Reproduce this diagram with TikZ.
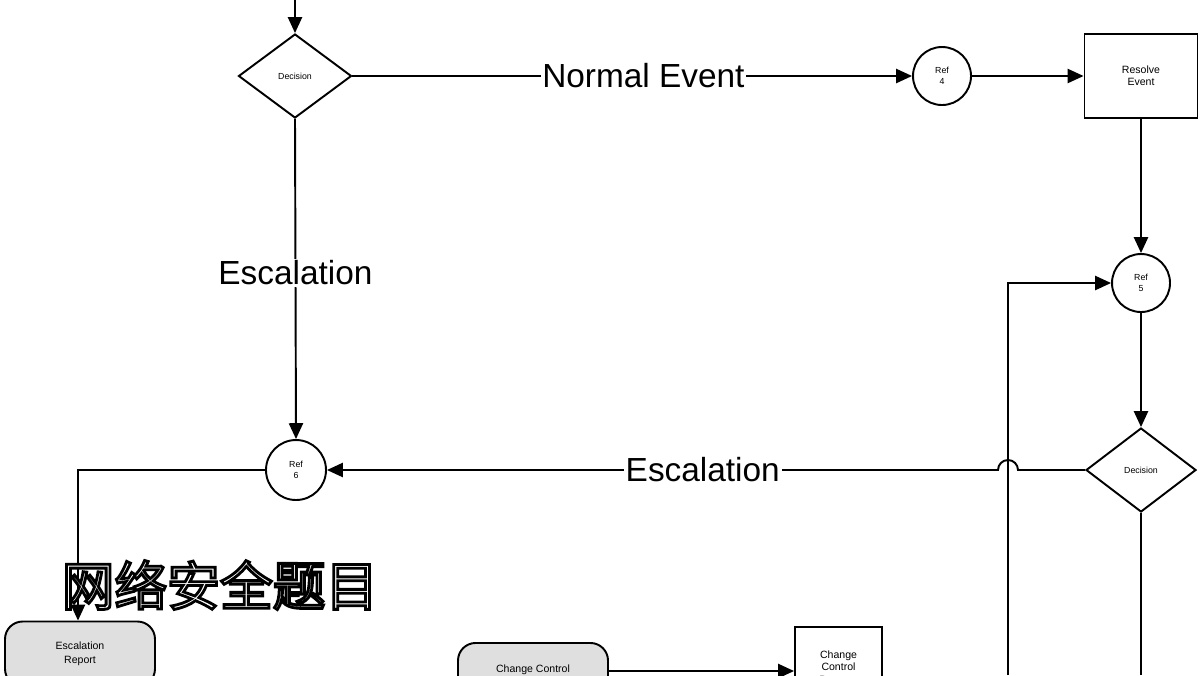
\documentclass[tikz,border=0pt]{standalone}
\usepackage{fontspec}
\setmainfont{Liberation Sans}
\newfontfamily\cjk{Noto Sans CJK SC}
\newcommand\outlinetxt[1]{\special{pdf:code q 2 Tr 1.6 w 0 0 0 RG 1 1 1 rg}#1\special{pdf:code 0 Tr Q}}
\usetikzlibrary{shapes.geometric,arrows.meta}
\begin{document}
\begin{tikzpicture}[
  line width=1.1pt,
  arr/.style={-{Triangle[length=9pt,width=8pt]}},
  dec/.style={diamond,draw,minimum width=2.26cm,minimum height=1.68cm,inner sep=0pt,font=\fontsize{5}{6}\selectfont,aspect=1.36},
  ref/.style={circle,draw,minimum size=1.16cm,inner sep=0pt,align=center,font=\fontsize{5}{6}\selectfont},
  box/.style={rectangle,draw,align=center,font=\fontsize{6}{7}\selectfont},
  rbox/.style={rectangle,rounded corners=10pt,draw,fill=gray!25,align=center,font=\fontsize{6}{8}\selectfont},
  lbl/.style={fill=white,inner sep=1pt,font=\fontsize{19}{22}\selectfont}
]
\useasboundingbox (0,0) rectangle (24,-13.5);
\node[dec] (d1) at (5.9,-1.52) {Decision};
\node[ref] (r4) at (18.84,-1.52) {Ref\\4};
\node[box,minimum width=2.26cm,minimum height=1.68cm] (res) at (22.82,-1.52) {Resolve\\Event};
\node[ref] (r5) at (22.82,-5.66) {Ref\\5};
\node[dec,minimum width=2.2cm] (d2) at (22.82,-9.4) {Decision};
\node[ref,minimum size=1.2cm] (r6) at (5.92,-9.4) {Ref\\6};
\node[rbox,minimum width=3cm,minimum height=1.3cm] (esc) at (1.6,-13.08) {Escalation\\Report};
\node[rbox,minimum width=3cm,minimum height=1.3cm,anchor=north] (cc) at (10.66,-12.84) {Change Control\\ };
\node[box,minimum width=1.74cm,minimum height=1.6cm,anchor=north,align=center] (ccp) at (16.77,-12.52) {Change\\Control\\Process};
\coordinate (top) at (5.9,0);
\coordinate (bot) at (22.82,-13.5);
\coordinate (lb) at (20.16,-13.5);
\coordinate (lt) at (20.16,-5.66);
\coordinate (ec) at (1.56,-9.4);

\draw[arr] (top) -- (d1.north);
\draw[arr] (d1.east) -- node[lbl,pos=0.52]{Normal Event} (r4.west);
\draw[arr] (r4.east) -- (res.west);
\draw[arr] (res.south) -- (r5.north);
\draw[arr] (r5.south) -- (d2.north);
\draw (d2.south) -- (bot);
\draw[arr] (lb) -- (lt) -- (r5.west);
\draw[arr] (d2.west) -- (20.36,-9.4) arc (0:180:0.2) -- node[lbl,pos=0.44]{Escalation} (r6.east);
\draw[arr] (d1.south) -- node[lbl,pos=0.48]{Escalation} (r6.north);
\draw[arr] (r6.west) -- (ec) -- (esc.north -| ec);
\draw[arr] (cc.east |- 0,-13.42) -- (ccp.west |- 0,-13.42);
\node[font=\cjk\fontsize{30}{32}\selectfont,anchor=west] (wm) at (1.1,-11.7) {\outlinetxt{网络安全题目}};
\end{tikzpicture}
\end{document}
